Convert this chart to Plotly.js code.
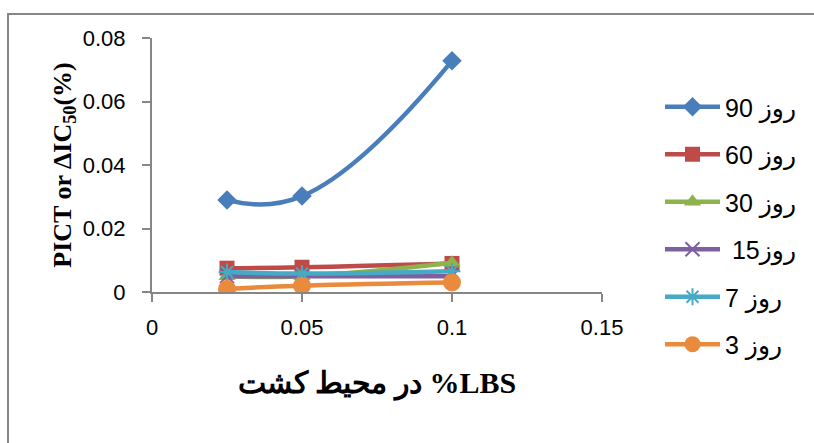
<!DOCTYPE html>
<html>
<head>
<meta charset="utf-8">
<script src="https://cdn.plot.ly/plotly-3.0.1.min.js"></script>
<style>html,body{margin:0;padding:0;background:#fff;}#chart{width:814px;height:443px;}</style>
</head>
<body>
<div id="chart"></div>
<script>
const xValues = [0.025, 0.05, 0.1];
const seriesNames = ["روز 90", "روز 60", "روز 30", "\u00a0روز15", "روز 7", "روز 3"];
const day90 = [0.029, 0.0302, 0.0728];
const day60 = [0.0075, 0.0078, 0.009];
const day30 = [0.005, 0.005, 0.0092];
const day15 = [0.005, 0.005, 0.005];
const day7 = [0.0063, 0.0058, 0.0065];
const day3 = [0.001, 0.002, 0.003];
const xTicks = [0, 0.05, 0.1, 0.15];
const xTickLabels = ["0", "0.05", "0.1", "0.15"];
const yTicks = [0, 0.02, 0.04, 0.06, 0.08];
const yTickLabels = ["0", "0.02", "0.04", "0.06", "0.08"];

const seriesValues = [day90, day60, day30, day15, day7, day3];
const colors = ["#4A7EBB", "#BE4B48", "#8DB24E", "#7D60A0", "#46AAC5", "#E98A3C"];
const symbols = ["diamond", "square", "triangle-up", "x-thin-open", "asterisk-open", "circle"];
const sizes = [15, 15, 15, 14, 14, 18];

const traces = seriesValues.map((vals, i) => ({
  x: xValues, y: vals, name: seriesNames[i], type: "scatter", mode: "lines+markers",
  legendgroup: "g" + i,
  line: {color: colors[i], width: 4.5, shape: "spline", smoothing: 1.3},
  marker: {symbol: symbols[i], size: sizes[i], color: colors[i],
           line: {color: colors[i], width: (i === 3 || i === 4) ? 2 : 0}}
}));

const L = 152, R = 212, T = 38, B = 151;
const pw = 814 - L - R, ph = 443 - T - B;
const px = v => (v - L) / pw;
const py = v => (443 - B - v) / ph;

const tickFont = {family: "Liberation Sans", size: 22, color: "#000"};

const layout = {
  width: 814, height: 443,
  margin: {l: L, r: R, t: T, b: B, pad: 0},
  paper_bgcolor: "#fff", plot_bgcolor: "#fff",
  showlegend: true,
  legend: {x: px(660), y: py(84), xanchor: "left", yanchor: "top",
           font: {family: "Liberation Sans, DejaVu Sans", size: 25, color: "#000"},
           tracegroupgap: 12, traceorder: "grouped", itemwidth: 55,
           maxheight: 420, bgcolor: "rgba(0,0,0,0)"},
  xaxis: {range: [0, 0.15], tickmode: "array", tickvals: xTicks, ticktext: xTickLabels,
          showgrid: false, zeroline: false, showline: true, linecolor: "#868686", linewidth: 2,
          ticks: "outside", ticklen: 8, tickcolor: "#868686", tickwidth: 2,
          ticklabelstandoff: 7,
          tickfont: tickFont,
          title: {text: "در محیط کشت %LBS", standoff: 33,
                  font: {family: "Liberation Serif, DejaVu Serif", size: 30, color: "#000", weight: "bold"}}},
  yaxis: {range: [0, 0.08], tickmode: "array", tickvals: yTicks, ticktext: yTickLabels,
          showgrid: false, zeroline: false, showline: true, linecolor: "#868686", linewidth: 2,
          ticks: "outside", ticklen: 8, tickcolor: "#868686", tickwidth: 2,
          ticklabelstandoff: 12,
          tickfont: tickFont,
          title: {text: "<b>PICT or ΔIC<sub>50</sub>(%)</b>", standoff: 4,
                  font: {family: "Liberation Serif, DejaVu Serif", size: 26, color: "#000"}}},
  shapes: [{type: "path", xref: "paper", yref: "paper",
            path: `M ${px(8)} ${py(443)} L ${px(8)} ${py(14)} L ${px(814)} ${py(14)}`,
            line: {color: "#868686", width: 2}}]
};

Plotly.newPlot("chart", traces, layout, {displayModeBar: false, staticPlot: true});
</script>
</body>
</html>
